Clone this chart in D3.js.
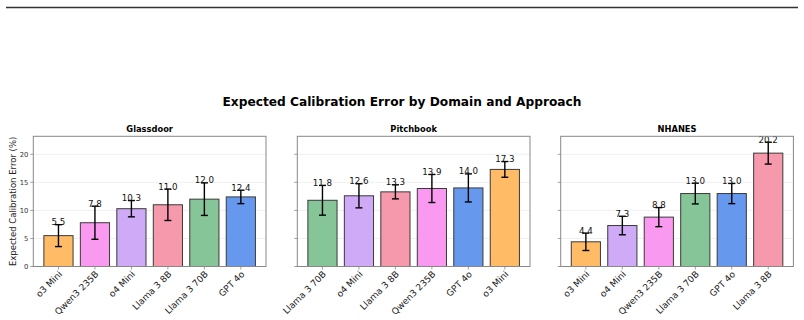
<!DOCTYPE html>
<html>
<head>
<meta charset="utf-8">
<script src="https://cdn.jsdelivr.net/npm/d3@7"></script>
<style>
  body { margin: 0; background: #fff; }
  svg { display: block; font-family: "DejaVu Sans", sans-serif; }
</style>
</head>
<body>
<div id="chart"></div>
<script>
// Expected Calibration Error by domain – three bar panels with error bars

const domains = ['Glassdoor', 'Pitchbook', 'NHANES'];

const glassdoorModels = ['o3 Mini', 'Qwen3 235B', 'o4 Mini', 'Llama 3 8B', 'Llama 3 70B', 'GPT 4o'];
const glassdoorValues = [5.5, 7.8, 10.3, 11.0, 12.0, 12.4];
const glassdoorErrors = [1.95, 2.95, 1.45, 2.8, 2.9, 1.2];

const pitchbookModels = ['Llama 3 70B', 'o4 Mini', 'Llama 3 8B', 'Qwen3 235B', 'GPT 4o', 'o3 Mini'];
const pitchbookValues = [11.8, 12.6, 13.3, 13.9, 14.0, 17.3];
const pitchbookErrors = [2.65, 2.15, 1.25, 2.5, 2.5, 1.4];

const nhanesModels = ['o3 Mini', 'o4 Mini', 'Qwen3 235B', 'Llama 3 70B', 'GPT 4o', 'Llama 3 8B'];
const nhanesValues = [4.4, 7.3, 8.8, 13.0, 13.0, 20.2];
const nhanesErrors = [1.55, 1.65, 1.7, 1.85, 1.8, 1.95];

const yTicks = [0, 5, 10, 15, 20];

const modelColors = {
    'o3 Mini': '#ffbb66',
    'Qwen3 235B': '#f99af0',
    'o4 Mini': '#cfaaf6',
    'Llama 3 8B': '#f799ad',
    'Llama 3 70B': '#86c597',
    'GPT 4o': '#6699ee'
};

const panels = [
    { models: glassdoorModels, values: glassdoorValues, errors: glassdoorErrors },
    { models: pitchbookModels, values: pitchbookValues, errors: pitchbookErrors },
    { models: nhanesModels, values: nhanesValues, errors: nhanesErrors }
];

const width = 804, height = 320;
const panelLefts = [33.3, 297.3, 560.7];
const panelWidth = 232.7;
const plotTop = 136.3, plotBottom = 266.5;

const svg = d3.select('#chart').append('svg')
    .attr('width', width)
    .attr('height', height);

// thin rule across the top
svg.append('line')
    .attr('x1', 6).attr('x2', 798)
    .attr('y1', 7.5).attr('y2', 7.5)
    .attr('stroke', '#333').attr('stroke-width', 1.5);

svg.append('text')
    .attr('x', 402).attr('y', 106)
    .attr('text-anchor', 'middle')
    .attr('font-size', '12.2px')
    .attr('font-weight', 'bold')
    .attr('fill', '#000')
    .text('Expected Calibration Error by Domain and Approach');

const y = d3.scaleLinear().domain([0, 23.2]).range([plotBottom, plotTop]);

svg.append('text')
    .attr('transform', `translate(16,${(plotTop + plotBottom) / 2}) rotate(-90)`)
    .attr('text-anchor', 'middle')
    .attr('font-size', '8.5px')
    .attr('fill', '#222')
    .text('Expected Calibration Error (%)');

panels.forEach((p, pi) => {
    const left = panelLefts[pi];
    const x = d3.scaleLinear().domain([-0.69, p.models.length - 0.31]).range([left, left + panelWidth]);
    const g = svg.append('g');

    // grid
    g.selectAll('line.grid')
        .data(yTicks)
        .join('line')
        .attr('class', 'grid')
        .attr('x1', left).attr('x2', left + panelWidth)
        .attr('y1', d => y(d)).attr('y2', d => y(d))
        .attr('stroke', '#ebebeb').attr('stroke-width', 0.8);

    // bars
    g.selectAll('rect.bar')
        .data(p.values)
        .join('rect')
        .attr('class', 'bar')
        .attr('x', (d, i) => x(i - 0.4))
        .attr('width', x(0.4) - x(-0.4))
        .attr('y', d => y(d))
        .attr('height', d => y(0) - y(d))
        .attr('fill', (d, i) => modelColors[p.models[i]])
        .attr('stroke', '#3a3a3a')
        .attr('stroke-width', 1);

    // error bars
    const eb = g.selectAll('g.err')
        .data(p.values)
        .join('g')
        .attr('class', 'err');
    eb.append('line')
        .attr('x1', (d, i) => x(i)).attr('x2', (d, i) => x(i))
        .attr('y1', (d, i) => y(d - p.errors[i])).attr('y2', (d, i) => y(d + p.errors[i]))
        .attr('stroke', '#000').attr('stroke-width', 1.4);
    [-1, 1].forEach(s => {
        eb.append('line')
            .attr('x1', (d, i) => x(i) - 3.5).attr('x2', (d, i) => x(i) + 3.5)
            .attr('y1', (d, i) => y(d + s * p.errors[i])).attr('y2', (d, i) => y(d + s * p.errors[i]))
            .attr('stroke', '#000').attr('stroke-width', 1.4);
    });

    // value labels
    g.selectAll('text.val')
        .data(p.values)
        .join('text')
        .attr('class', 'val')
        .attr('x', (d, i) => x(i))
        .attr('y', (d, i) => y(d + p.errors[i]) + 0.5)
        .attr('text-anchor', 'middle')
        .attr('font-size', '8.7px')
        .attr('fill', '#111')
        .text(d => d.toFixed(1));

    // frame
    g.append('rect')
        .attr('x', left).attr('y', plotTop)
        .attr('width', panelWidth).attr('height', plotBottom - plotTop)
        .attr('fill', 'none')
        .attr('stroke', '#888').attr('stroke-width', 1);

    // y ticks
    g.selectAll('line.ytick')
        .data(yTicks)
        .join('line')
        .attr('class', 'ytick')
        .attr('x1', left - 3).attr('x2', left)
        .attr('y1', d => y(d)).attr('y2', d => y(d))
        .attr('stroke', '#888').attr('stroke-width', 0.8);
    if (pi === 0) {
        g.selectAll('text.ytl')
            .data(yTicks)
            .join('text')
            .attr('class', 'ytl')
            .attr('x', left - 5)
            .attr('y', d => y(d))
            .attr('dy', '0.35em')
            .attr('text-anchor', 'end')
            .attr('font-size', '6.8px')
            .attr('fill', '#333')
            .text(d => d);
    }

    // x ticks
    g.selectAll('line.xtick')
        .data(p.models)
        .join('line')
        .attr('class', 'xtick')
        .attr('x1', (d, i) => x(i)).attr('x2', (d, i) => x(i))
        .attr('y1', plotBottom).attr('y2', plotBottom + 3)
        .attr('stroke', '#888').attr('stroke-width', 0.8);
    g.selectAll('text.xtl')
        .data(p.models)
        .join('text')
        .attr('class', 'xtl')
        .attr('transform', (d, i) => `translate(${x(i) + 2},${plotBottom + 6}) rotate(-45)`)
        .attr('text-anchor', 'end')
        .attr('dy', '0.35em')
        .attr('font-size', '9px')
        .attr('fill', '#222')
        .text(d => d);

    // subplot title
    g.append('text')
        .attr('x', left + panelWidth / 2)
        .attr('y', plotTop - 4)
        .attr('text-anchor', 'middle')
        .attr('font-size', '8.3px')
        .attr('font-weight', 'bold')
        .attr('fill', '#000')
        .text(domains[pi]);
});
</script>
</body>
</html>
